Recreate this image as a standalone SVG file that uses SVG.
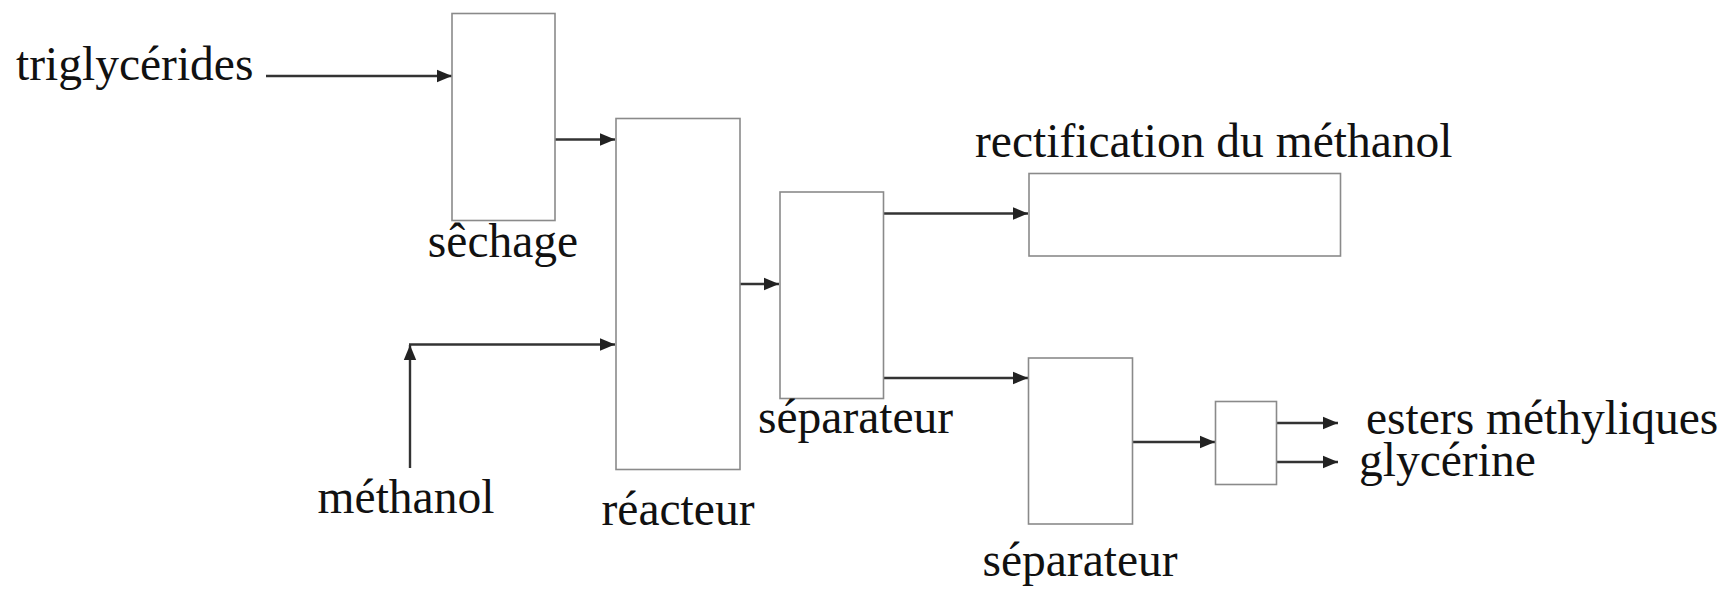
<svg xmlns="http://www.w3.org/2000/svg" width="1733" height="590" viewBox="0 0 1733 590">
<style>
.box{fill:none;stroke:#8a8a8a;stroke-width:1.6}
.lbl{font-family:"Liberation Serif","Times New Roman",serif;font-size:47.5px;fill:#111}
.flow{fill:none;stroke:#333;stroke-width:2.4}
</style>
<defs>
<marker id="ah" markerUnits="userSpaceOnUse" markerWidth="16" markerHeight="14" refX="15" refY="7" orient="auto">
<path d="M0,0.8 L15,7 L0,13.2 Z" fill="#222"/>
</marker>
</defs>
<rect width="1733" height="590" fill="#fff"/>
<g id="connectors">
<line class="flow" x1="266" y1="76" x2="452" y2="76" marker-end="url(#ah)"/>
<line class="flow" x1="555" y1="139.5" x2="615" y2="139.5" marker-end="url(#ah)"/>
<line class="flow" x1="410" y1="468" x2="410" y2="345" marker-end="url(#ah)"/>
<line class="flow" x1="409" y1="344.5" x2="615" y2="344.5" marker-end="url(#ah)"/>
<line class="flow" x1="740" y1="284" x2="779" y2="284" marker-end="url(#ah)"/>
<line class="flow" x1="884" y1="213.5" x2="1028" y2="213.5" marker-end="url(#ah)"/>
<line class="flow" x1="884" y1="378" x2="1028" y2="378" marker-end="url(#ah)"/>
<line class="flow" x1="1133" y1="442" x2="1215" y2="442" marker-end="url(#ah)"/>
<line class="flow" x1="1277" y1="423" x2="1338" y2="423" marker-end="url(#ah)"/>
<line class="flow" x1="1277" y1="462" x2="1338" y2="462" marker-end="url(#ah)"/>
</g>
<g id="triglycerides"><text class="lbl" x="16" y="80">triglycérides</text></g>
<g id="methanol"><text class="lbl" x="406" y="513" text-anchor="middle">méthanol</text></g>
<g id="sechage">
<rect class="box" x="452" y="13.5" width="103" height="207"/>
<text class="lbl" x="503" y="257" text-anchor="middle">sêchage</text>
</g>
<g id="reacteur">
<rect class="box" x="616" y="118.5" width="124" height="351"/>
<text class="lbl" x="678" y="525" text-anchor="middle">réacteur</text>
</g>
<g id="separateur1">
<rect class="box" x="780" y="192" width="103.5" height="206.5"/>
<text class="lbl" x="758" y="433">séparateur</text>
</g>
<g id="rectification">
<rect class="box" x="1029" y="173.5" width="311.5" height="82.5"/>
<text class="lbl" x="975" y="157">rectification du méthanol</text>
</g>
<g id="separateur2">
<rect class="box" x="1028.5" y="358" width="104" height="166"/>
<text class="lbl" x="1080" y="576" text-anchor="middle">séparateur</text>
</g>
<g id="separateur3">
<rect class="box" x="1215.5" y="401.5" width="61" height="83"/>
</g>
<g id="esters"><text class="lbl" x="1366" y="434">esters méthyliques</text></g>
<g id="glycerine"><text class="lbl" x="1359" y="476">glycérine</text></g>
</svg>
